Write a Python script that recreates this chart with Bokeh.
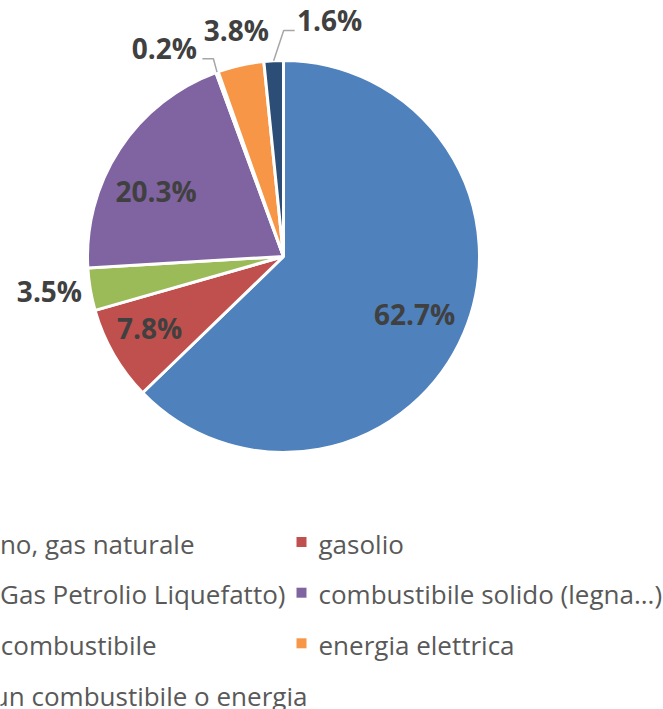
import math
from bokeh.plotting import figure
from bokeh.models import Range1d, ColumnDataSource
from bokeh.core.properties import value
from bokeh.embed import file_html
from bokeh.resources import INLINE

# ---- data ----
categories = ["metano, gas naturale", "gasolio", "GPL (Gas Petrolio Liquefatto)",
              "combustibile solido (legna...)", "altro combustibile", "energia elettrica",
              "nessun combustibile o energia"]
shares = [62.7, 7.8, 3.5, 20.3, 0.2, 3.8, 1.6]
colors = ["#4F81BD", "#C0504D", "#9BBB59", "#8064A2", "#4BACC6", "#F79646", "#2C4D75"]

# label placement style: radius factor and angular nudge (deg) from slice mid-angle
label_rf = [0.733, 0.778, 1.208, 0.728, 1.222, 1.173, 1.222]
label_nudge = [1.2, 1.4, 0.9, -6.5, -10.0, 0.8, 14.0]
leader = [False, False, False, False, True, False, True]

W, H = 663, 709
CX, CY_S, R = 283, 256, 196   # pie centre (screen px) and radius

def sy(y):  # screen y -> data y
    return H - y

p = figure(width=W, height=H, output_backend="svg", toolbar_location=None,
           x_range=Range1d(0, W), y_range=Range1d(0, H), min_border=0,
           outline_line_color=None, background_fill_color="white",
           border_fill_color="white")
p.axis.visible = False
p.grid.visible = False

total = sum(shares)
cum = 0.0
starts, ends, mids = [], [], []
for v in shares:
    a0 = cum / total
    cum += v
    a1 = cum / total
    starts.append(math.pi / 2 - 2 * math.pi * a0)
    ends.append(math.pi / 2 - 2 * math.pi * a1)
    mids.append(360.0 * (a0 + a1) / 2)  # degrees clockwise from top

src = ColumnDataSource(dict(x=[CX] * len(shares), y=[sy(CY_S)] * len(shares),
                            start=starts, end=ends, color=colors))
p.wedge(x="x", y="y", radius=R, start_angle="start", end_angle="end",
        direction="clock", fill_color="color", line_color="white", line_width=3,
        source=src)

# data labels
lx, ly, lt = [], [], []
for i, v in enumerate(shares):
    th = math.radians(mids[i] + label_nudge[i])
    r = label_rf[i] * R
    x = CX + r * math.sin(th)
    y_s = CY_S - r * math.cos(th)
    lx.append(x)
    ly.append(sy(y_s - 1))
    lt.append(f"{v:.1f}%")
    if leader[i]:
        thm = math.radians(mids[i])
        rim = (CX + R * math.sin(thm), CY_S - R * math.cos(thm))
        if x < rim[0]:
            end = (x + 38, y_s + 10)
            elbow = (end[0] + 11, end[1])
        else:
            end = (x - 35, y_s + 9)
            elbow = (end[0] - 11, end[1])
        p.line([rim[0], elbow[0], end[0]], [sy(rim[1]), sy(elbow[1]), sy(end[1])],
               line_color="#A6A6A6", line_width=1.5)

p.text(x=lx, y=ly, text=lt, text_font=value("Open Sans"), text_font_style="bold",
       text_font_size="28px", text_color="#404040", text_align="center",
       text_baseline="alphabetic")

# legend (two columns, row-major)
col_x = [-63, 318]
row_base = [552, 602.7, 653.3, 704]
mx, my, mc, tx, ty, tt = [], [], [], [], [], []
for i, name in enumerate(categories):
    r_, c_ = divmod(i, 2)
    tx.append(col_x[c_])
    ty.append(sy(row_base[r_] - 9))
    tt.append(name)
    mx.append(col_x[c_] - 17)
    my.append(sy(row_base[r_] - 10.5))
    mc.append(colors[i])
p.scatter(x=mx, y=my, marker="square", size=10, fill_color=mc, line_color=None)
p.text(x=tx, y=ty, text=tt, text_font=value("Open Sans"), text_font_size="26px",
       text_color="#595959", text_align="left", text_baseline="alphabetic")

html = file_html(p, INLINE)
html = html.replace("<body>", '<body style="margin:0;overflow:hidden">', 1)
open("out.html", "w").write(html)
